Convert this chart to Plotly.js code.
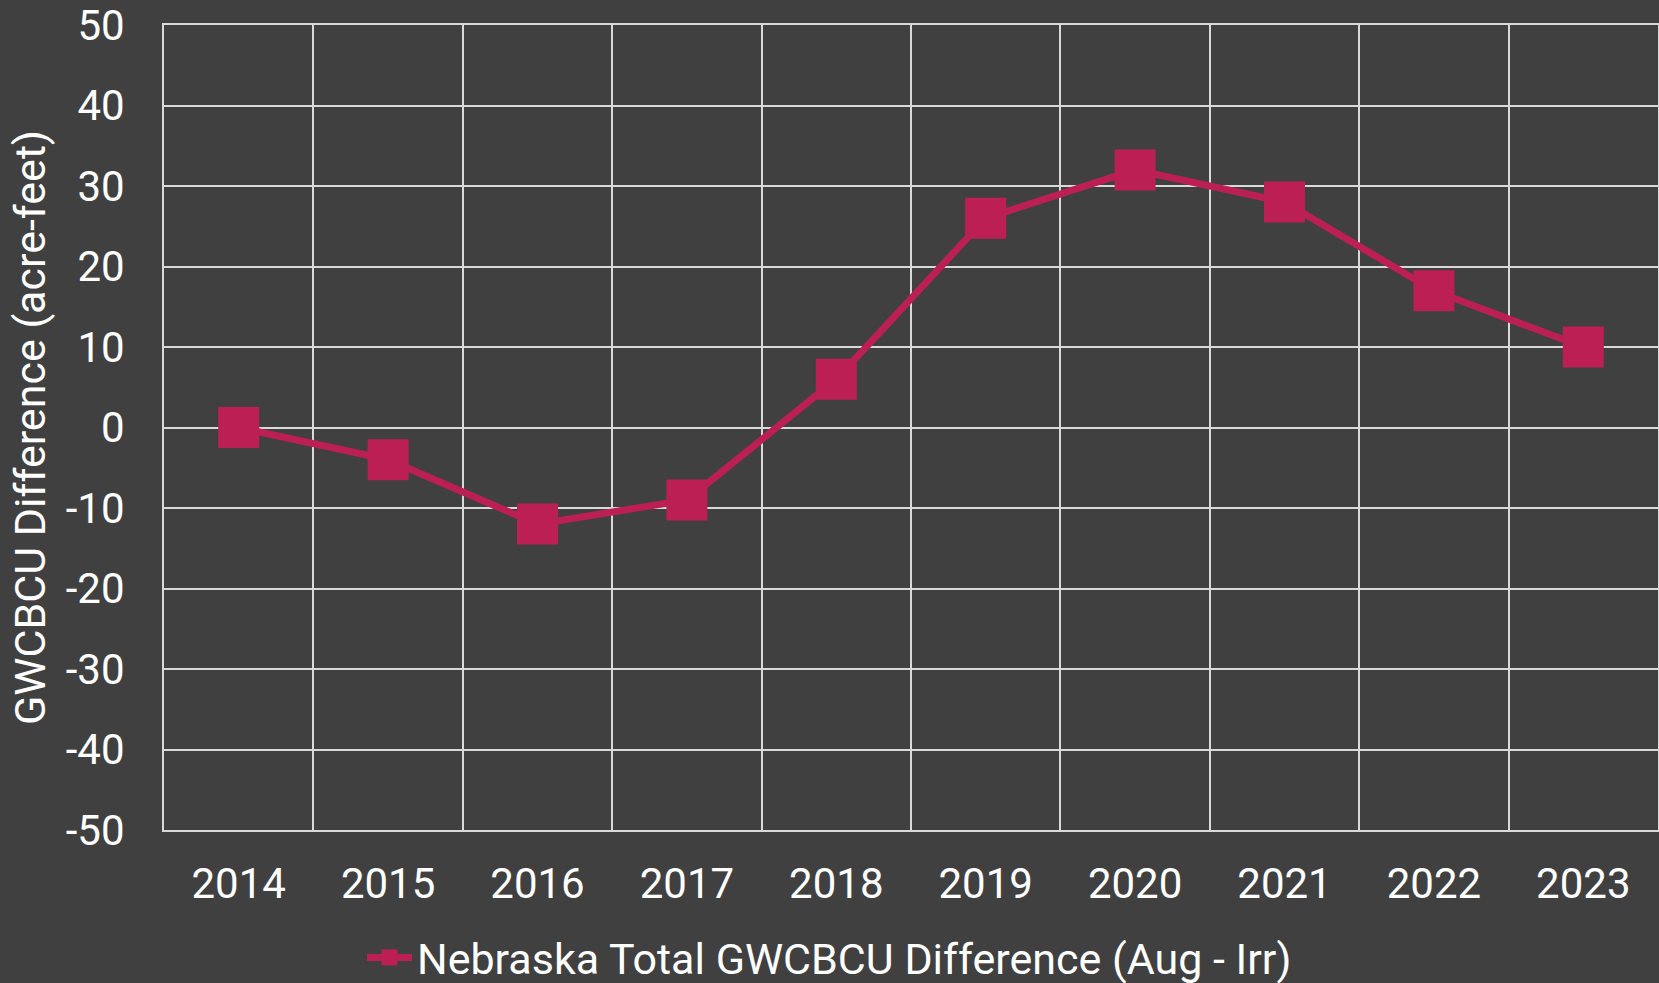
<!DOCTYPE html>
<html>
<head>
<meta charset="utf-8">
<script src="https://cdn.plot.ly/plotly-3.0.1.min.js"></script>
<style>html,body{margin:0;padding:0;background:#404040;}#chart{width:1659px;height:983px;}</style>
</head>
<body>
<div id="chart"></div>
<script>
const years = ["2014","2015","2016","2017","2018","2019","2020","2021","2022","2023"];
const differences = [0, -4, -12, -9, 6, 26, 32, 28, 17, 10];
const seriesName = "Nebraska Total GWCBCU Difference (Aug - Irr)";
const yTickValues = [-50,-40,-30,-20,-10,0,10,20,30,40,50];
const yTickLabels = ["-50","-40","-30","-20","-10","0","10","20","30","40","50"];

const trace = {
  x: years,
  y: differences,
  type: "scatter",
  mode: "lines+markers",
  name: seriesName,
  line: {color: "#BC1F54", width: 7},
  marker: {symbol: "square", size: 41, color: "#BC1F54"}
};

const layout = {
  width: 1659, height: 983,
  paper_bgcolor: "#404040",
  plot_bgcolor: "#404040",
  margin: {l: 164, r: 1, t: 25, b: 153},
  font: {family: "Roboto, sans-serif", color: "#ffffff", size: 42},
  showlegend: true,
  legend: {
    orientation: "h",
    xref: "container", yref: "container",
    x: 0.5, xanchor: "center",
    y: 0.026, yanchor: "middle",
    itemwidth: 45,
    font: {size: 43, color: "#ffffff"},
    bgcolor: "rgba(0,0,0,0)"
  },
  xaxis: {
    type: "category",
    range: [-0.5, 9.5],
    tickson: "boundaries",
    showgrid: true,
    gridcolor: "#d9d9d9",
    gridwidth: 2,
    showline: true,
    linecolor: "#d9d9d9",
    linewidth: 2,
    mirror: true,
    ticks: "",
    ticklabelstandoff: 16,
    tickfont: {size: 42, color: "#ffffff"},
    zeroline: false
  },
  yaxis: {
    range: [-50, 50],
    tickvals: yTickValues,
    ticktext: yTickLabels,
    showgrid: true,
    gridcolor: "#d9d9d9",
    gridwidth: 2,
    showline: true,
    linecolor: "#d9d9d9",
    linewidth: 2,
    mirror: true,
    zeroline: false,
    ticks: "",
    ticklabelstandoff: 29,
    tickfont: {size: 42, color: "#ffffff"},
    title: {text: "GWCBCU Difference (acre-feet)", font: {size: 43, color: "#ffffff"}, standoff: 7}
  }
};

Plotly.newPlot("chart", [trace], layout, {displayModeBar: false, staticPlot: true});
</script>
</body>
</html>
